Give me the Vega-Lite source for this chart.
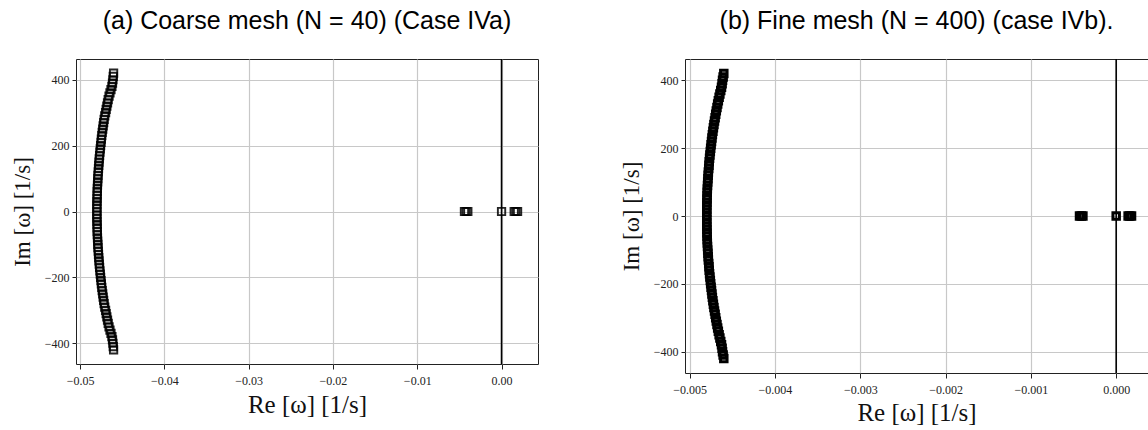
{
  "$schema": "https://vega.github.io/schema/vega-lite/v6.json",
  "padding": {"left": 10, "top": 8, "right": 0, "bottom": 0},
  "background": "white",
  "config": {
    "view": {"stroke": "#222", "strokeWidth": 1},
    "axis": {"grid": true, "gridColor": "#c8c8c8", "gridWidth": 1.2, "domain": false, "tickColor": "#222", "tickSize": 4, "labelPadding": 3, "labelFont": "Liberation Serif", "labelFontSize": 12, "labelColor": "#222", "titleFont": "Liberation Serif", "titleFontSize": 23, "titleFontWeight": "normal", "titleColor": "#111", "labelFlush": false},
    "axisX": {"tickSize": 5, "labelPadding": 6, "titleFontSize": 25},
    "title": {"font": "Liberation Sans", "fontSize": 25, "fontWeight": "normal", "color": "#000", "offset": 24}
  },
  "datasets": {
    "coarse": [
      {"re": -0.04602, "im": 420}, {"re": -0.04606, "im": 410}, {"re": -0.04610, "im": 400}, {"re": -0.04615, "im": 390}, {"re": -0.04622, "im": 380},
      {"re": -0.04633, "im": 370}, {"re": -0.04645, "im": 360}, {"re": -0.04656, "im": 350}, {"re": -0.04666, "im": 340}, {"re": -0.04674, "im": 330},
      {"re": -0.04682, "im": 320}, {"re": -0.04690, "im": 310}, {"re": -0.04697, "im": 300}, {"re": -0.04707, "im": 290}, {"re": -0.04714, "im": 280},
      {"re": -0.04720, "im": 270}, {"re": -0.04726, "im": 260}, {"re": -0.04731, "im": 250}, {"re": -0.04737, "im": 240}, {"re": -0.04742, "im": 230},
      {"re": -0.04747, "im": 220}, {"re": -0.04751, "im": 210}, {"re": -0.04756, "im": 200}, {"re": -0.04760, "im": 190}, {"re": -0.04764, "im": 180},
      {"re": -0.04768, "im": 170}, {"re": -0.04772, "im": 160}, {"re": -0.04775, "im": 150}, {"re": -0.04778, "im": 140}, {"re": -0.04781, "im": 130},
      {"re": -0.04784, "im": 120}, {"re": -0.04787, "im": 110}, {"re": -0.04789, "im": 100}, {"re": -0.04791, "im": 90}, {"re": -0.04793, "im": 80},
      {"re": -0.04795, "im": 70}, {"re": -0.04796, "im": 60}, {"re": -0.04797, "im": 50}, {"re": -0.04798, "im": 40}, {"re": -0.04799, "im": 30},
      {"re": -0.04800, "im": 20}, {"re": -0.04800, "im": 10}, {"re": -0.04800, "im": 0}, {"re": -0.04800, "im": -10}, {"re": -0.04800, "im": -20},
      {"re": -0.04799, "im": -30}, {"re": -0.04798, "im": -40}, {"re": -0.04797, "im": -50}, {"re": -0.04796, "im": -60}, {"re": -0.04795, "im": -70},
      {"re": -0.04793, "im": -80}, {"re": -0.04791, "im": -90}, {"re": -0.04789, "im": -100}, {"re": -0.04787, "im": -110}, {"re": -0.04784, "im": -120},
      {"re": -0.04781, "im": -130}, {"re": -0.04778, "im": -140}, {"re": -0.04775, "im": -150}, {"re": -0.04772, "im": -160}, {"re": -0.04768, "im": -170},
      {"re": -0.04764, "im": -180}, {"re": -0.04760, "im": -190}, {"re": -0.04756, "im": -200}, {"re": -0.04751, "im": -210}, {"re": -0.04747, "im": -220},
      {"re": -0.04742, "im": -230}, {"re": -0.04737, "im": -240}, {"re": -0.04731, "im": -250}, {"re": -0.04726, "im": -260}, {"re": -0.04720, "im": -270},
      {"re": -0.04714, "im": -280}, {"re": -0.04707, "im": -290}, {"re": -0.04697, "im": -300}, {"re": -0.04690, "im": -310}, {"re": -0.04682, "im": -320},
      {"re": -0.04674, "im": -330}, {"re": -0.04666, "im": -340}, {"re": -0.04656, "im": -350}, {"re": -0.04645, "im": -360}, {"re": -0.04633, "im": -370},
      {"re": -0.04622, "im": -380}, {"re": -0.04615, "im": -390}, {"re": -0.04610, "im": -400}, {"re": -0.04606, "im": -410}, {"re": -0.04602, "im": -420},
      {"re": -0.0044, "im": 0}, {"re": -0.0042, "im": 0}, {"re": -0.0040, "im": 0},
      {"re": 0.0, "im": 0},
      {"re": 0.0015, "im": 0}, {"re": 0.0017, "im": 0}, {"re": 0.0019, "im": 0}
    ],
    "fine": [
      {"re": -0.004600, "im": 420}, {"re": -0.004608, "im": 410}, {"re": -0.004615, "im": 400}, {"re": -0.004620, "im": 390}, {"re": -0.004627, "im": 380},
      {"re": -0.004636, "im": 370}, {"re": -0.004646, "im": 360}, {"re": -0.004655, "im": 350}, {"re": -0.004664, "im": 340}, {"re": -0.004672, "im": 330},
      {"re": -0.004680, "im": 320}, {"re": -0.004688, "im": 310}, {"re": -0.004695, "im": 300}, {"re": -0.004702, "im": 290}, {"re": -0.004709, "im": 280},
      {"re": -0.004716, "im": 270}, {"re": -0.004722, "im": 260}, {"re": -0.004728, "im": 250}, {"re": -0.004734, "im": 240}, {"re": -0.004739, "im": 230},
      {"re": -0.004744, "im": 220}, {"re": -0.004749, "im": 210}, {"re": -0.004754, "im": 200}, {"re": -0.004758, "im": 190}, {"re": -0.004763, "im": 180},
      {"re": -0.004767, "im": 170}, {"re": -0.004771, "im": 160}, {"re": -0.004774, "im": 150}, {"re": -0.004777, "im": 140}, {"re": -0.004781, "im": 130},
      {"re": -0.004783, "im": 120}, {"re": -0.004786, "im": 110}, {"re": -0.004789, "im": 100}, {"re": -0.004791, "im": 90}, {"re": -0.004793, "im": 80},
      {"re": -0.004794, "im": 70}, {"re": -0.004796, "im": 60}, {"re": -0.004797, "im": 50}, {"re": -0.004798, "im": 40}, {"re": -0.004799, "im": 30},
      {"re": -0.004800, "im": 20}, {"re": -0.004800, "im": 10}, {"re": -0.004800, "im": 0}, {"re": -0.004800, "im": -10}, {"re": -0.004800, "im": -20},
      {"re": -0.004799, "im": -30}, {"re": -0.004798, "im": -40}, {"re": -0.004797, "im": -50}, {"re": -0.004796, "im": -60}, {"re": -0.004794, "im": -70},
      {"re": -0.004793, "im": -80}, {"re": -0.004791, "im": -90}, {"re": -0.004789, "im": -100}, {"re": -0.004786, "im": -110}, {"re": -0.004783, "im": -120},
      {"re": -0.004781, "im": -130}, {"re": -0.004777, "im": -140}, {"re": -0.004774, "im": -150}, {"re": -0.004771, "im": -160}, {"re": -0.004767, "im": -170},
      {"re": -0.004763, "im": -180}, {"re": -0.004758, "im": -190}, {"re": -0.004754, "im": -200}, {"re": -0.004749, "im": -210}, {"re": -0.004744, "im": -220},
      {"re": -0.004739, "im": -230}, {"re": -0.004734, "im": -240}, {"re": -0.004728, "im": -250}, {"re": -0.004722, "im": -260}, {"re": -0.004716, "im": -270},
      {"re": -0.004709, "im": -280}, {"re": -0.004702, "im": -290}, {"re": -0.004695, "im": -300}, {"re": -0.004688, "im": -310}, {"re": -0.004680, "im": -320},
      {"re": -0.004672, "im": -330}, {"re": -0.004664, "im": -340}, {"re": -0.004655, "im": -350}, {"re": -0.004646, "im": -360}, {"re": -0.004636, "im": -370},
      {"re": -0.004627, "im": -380}, {"re": -0.004620, "im": -390}, {"re": -0.004615, "im": -400}, {"re": -0.004608, "im": -410}, {"re": -0.004600, "im": -420},
      {"re": -0.00043, "im": 0}, {"re": -0.00041, "im": 0}, {"re": -0.00039, "im": 0},
      {"re": 0.0, "im": 0},
      {"re": 0.00014, "im": 0}, {"re": 0.00016, "im": 0}, {"re": 0.00018, "im": 0}
    ],
    "zero": [{"re": 0}]
  },
  "spacing": 80,
  "hconcat": [
    {
      "title": {"text": "(a) Coarse mesh (N = 40) (Case IVa)"},
      "width": 462,
      "height": 305,
      "layer": [
        {
          "data": {"name": "coarse"},
          "mark": {"type": "point", "shape": "square", "filled": false, "size": 54, "strokeWidth": 1.9, "color": "#000", "opacity": 0.85},
          "encoding": {
            "x": {"field": "re", "type": "quantitative", "scale": {"domain": [-0.05048, 0.004324], "nice": false, "zero": false},
                  "axis": {"values": [-0.05, -0.04, -0.03, -0.02, -0.01, 0], "format": ".2f", "title": "Re [ω] [1/s]", "titlePadding": 6}},
            "y": {"field": "im", "type": "quantitative", "scale": {"domain": [-463, 463], "nice": false, "zero": false},
                  "axis": {"values": [-400, -200, 0, 200, 400], "format": "d", "title": "Im [ω] [1/s]", "titlePadding": 10}}
          }
        },
        {
          "data": {"name": "zero"},
          "mark": {"type": "rule", "color": "#000", "strokeWidth": 1.6},
          "encoding": {"x": {"field": "re", "type": "quantitative"}}
        }
      ]
    },
    {
      "title": {"text": "(b) Fine mesh (N = 400) (case IVb)."},
      "width": 463,
      "height": 314,
      "layer": [
        {
          "data": {"name": "fine"},
          "mark": {"type": "point", "shape": "square", "filled": false, "size": 42, "strokeWidth": 3, "color": "#000", "opacity": 1},
          "encoding": {
            "x": {"field": "re", "type": "quantitative", "scale": {"domain": [-0.005055, 0.000373], "nice": false, "zero": false},
                  "axis": {"values": [-0.005, -0.004, -0.003, -0.002, -0.001, 0], "format": ".3f", "title": "Re [ω] [1/s]", "titlePadding": 5}},
            "y": {"field": "im", "type": "quantitative", "scale": {"domain": [-463, 463], "nice": false, "zero": false},
                  "axis": {"values": [-400, -200, 0, 200, 400], "format": "d", "title": "Im [ω] [1/s]", "titlePadding": 10}}
          }
        },
        {
          "data": {"name": "zero"},
          "mark": {"type": "rule", "color": "#000", "strokeWidth": 1.6},
          "encoding": {"x": {"field": "re", "type": "quantitative"}}
        }
      ]
    }
  ]
}
